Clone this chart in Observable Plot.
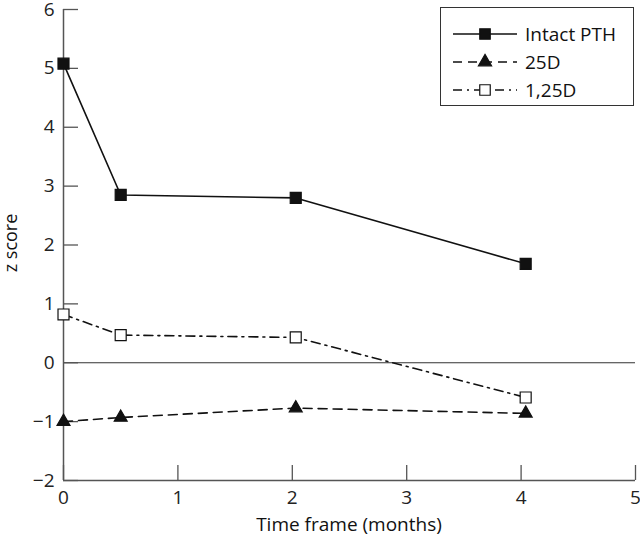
<!DOCTYPE html>
<html>
<head>
<meta charset="utf-8">
<script src="https://cdn.jsdelivr.net/npm/d3@7"></script>
<script src="https://cdn.jsdelivr.net/npm/@observablehq/plot@0.6"></script>
<style>
  html, body { margin: 0; padding: 0; background: #fff; }
  #wrap { position: relative; width: 640px; height: 538px; font-family: "Open Sans", sans-serif; }
  #legend { position: absolute; left: 440px; top: 7px; width: 194px; height: 99px; border: 1.5px solid #333; box-sizing: border-box; background: #fff; }
  #legend .row { display: flex; align-items: center; height: 28px; }
  #legend .row:first-child { margin-top: 12px; }
  #legend span { font-size: 19px; color: #111; margin-left: 8px; }
</style>
</head>
<body>
<div id="wrap"><div id="legend"></div></div>
<script>
const times = [0, 0.5, 2.03, 4.04];
const seriesNames = ["Intact PTH", "25D", "1,25D"];
const pthValues = [5.08, 2.85, 2.80, 1.68];
const d25Values = [-1.00, -0.93, -0.77, -0.86];
const d125Values = [0.82, 0.47, 0.43, -0.59];
const xTicks = [0, 1, 2, 3, 4, 5];
const yTicks = [-2, -1, 0, 1, 2, 3, 4, 5, 6];

const styles = {
  "Intact PTH": {dash: null, symbol: "square", fill: "#111"},
  "25D": {dash: "9,6", symbol: "triangle", fill: "#111"},
  "1,25D": {dash: "9,5,2,5", symbol: "square", fill: "#fff"}
};
const valuesBy = {"Intact PTH": pthValues, "25D": d25Values, "1,25D": d125Values};
const rows = [];
for (const s of seriesNames) valuesBy[s].forEach((v, i) => rows.push({series: s, t: times[i], z: v}));

const W = 640, H = 538, mL = 63, mR = 5, mT = 9, mB = 58;
const plotW = W - mL - mR, plotH = H - mT - mB, tickLen = 15;

const marks = [
  Plot.ruleY([0], {stroke: "#333", strokeWidth: 1.2}),
  Plot.axisY({ticks: yTicks, tickSize: 0, tickPadding: 9, tickFormat: "d", fontSize: 19, color: "#222", label: null}),
  Plot.axisX({ticks: xTicks, tickSize: 0, tickPadding: 10, tickFormat: "d", fontSize: 19, color: "#222", label: null}),
  Plot.ruleY(yTicks, {stroke: "#555", strokeWidth: 1.3, insetRight: plotW - tickLen}),
  Plot.ruleX(xTicks, {stroke: "#555", strokeWidth: 1.3, insetTop: plotH - tickLen}),
  Plot.ruleX([0], {stroke: "#555", strokeWidth: 1.5}),
  Plot.ruleY([-2], {stroke: "#555", strokeWidth: 1.5})
];
for (const s of seriesNames) {
  const st = styles[s];
  const d = rows.filter(r => r.series === s);
  marks.push(Plot.line(d, {x: "t", y: "z", stroke: "#111", strokeWidth: 1.6, strokeDasharray: st.dash}));
  marks.push(Plot.dot(d, {x: "t", y: "z", symbol: () => st.symbol, r: st.symbol === "triangle" ? 4.8 : 6.2, fill: st.fill, stroke: "#111", strokeWidth: 1.2}));
}

const chart = Plot.plot({
  width: W,
  height: H,
  marginLeft: mL,
  marginRight: mR,
  marginTop: mT,
  marginBottom: mB,
  style: {fontFamily: "Open Sans, sans-serif", background: "#fff"},
  x: {domain: [0, 5], label: null},
  y: {domain: [-2, 6], label: null},
  symbol: {type: "identity"},
  marks
});
chart.style.position = "absolute";
chart.style.left = "0";
chart.style.top = "0";
const wrap = document.getElementById("wrap");
wrap.insertBefore(chart, wrap.firstChild);

// axis titles
const svg = d3.select(chart);
svg.append("text").attr("x", 349).attr("y", 531).attr("text-anchor", "middle")
  .attr("font-size", 19).attr("fill", "#111").text("Time frame (months)");
svg.append("text").attr("transform", "translate(17,243) rotate(-90)").attr("text-anchor", "middle")
  .attr("font-size", 18).attr("fill", "#111").text("z score");

// legend
const legend = d3.select("#legend");
for (const s of seriesNames) {
  const st = styles[s];
  const row = legend.append("div").attr("class", "row");
  const g = row.append("svg").attr("width", 64).attr("height", 20).style("margin-left", "12px");
  g.append("line").attr("x1", 0).attr("x2", 64).attr("y1", 10).attr("y2", 10)
    .attr("stroke", "#111").attr("stroke-width", 1.6).attr("stroke-dasharray", st.dash);
  const sym = st.symbol === "triangle" ? d3.symbolTriangle : d3.symbolSquare;
  g.append("path").attr("d", d3.symbol(sym, st.symbol === "triangle" ? 75 : 110)())
    .attr("transform", "translate(32,10)").attr("fill", st.fill).attr("stroke", "#111").attr("stroke-width", 1.2);
  row.append("span").text(s);
}
</script>
</body>
</html>
